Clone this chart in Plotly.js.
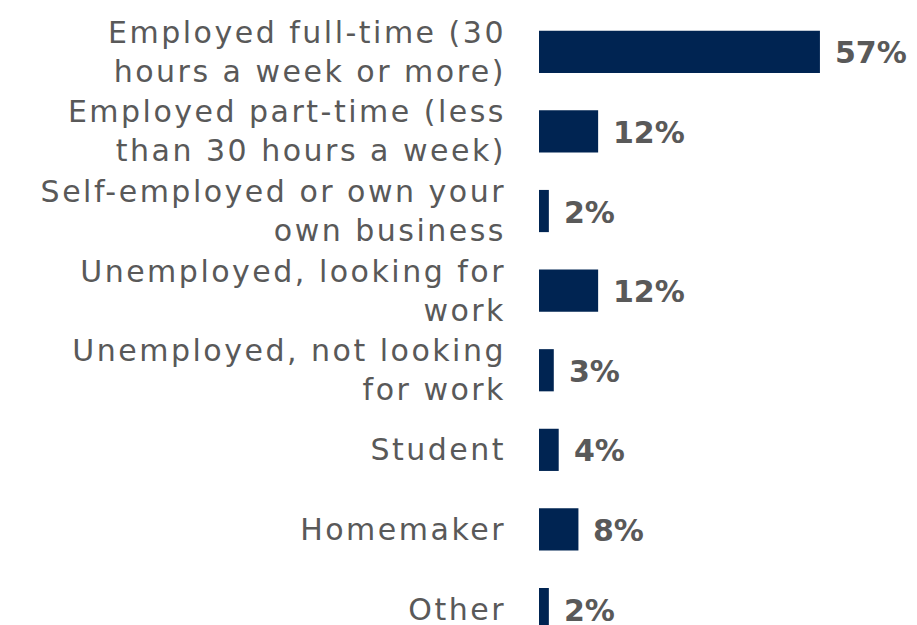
<!DOCTYPE html>
<html>
<head>
<meta charset="utf-8">
<script src="https://cdn.plot.ly/plotly-3.0.1.min.js"></script>
<style>
html,body{margin:0;padding:0;background:#fff;}
#chart{width:917px;height:625px;}
#chart .ytick text{letter-spacing:2.5px;}
</style>
</head>
<body>
<div id="chart"></div>
<script>
var categories = [
  "Employed full-time (30<br>hours a week or more)",
  "Employed part-time (less<br>than 30 hours a week)",
  "Self-employed or own your<br>own business",
  "Unemployed, looking for<br>work",
  "Unemployed, not looking<br>for work",
  "Student",
  "Homemaker",
  "Other"
];
var values = [57, 12, 2, 12, 3, 4, 8, 2];
var valueLabels = ["57%", "12%", "2%", "12%", "3%", "4%", "8%", "2%"];

var barColor = "#002452";
var textColor = "#595959";

var trace = {
  type: "bar",
  orientation: "h",
  y: categories,
  x: values,
  marker: {color: barColor},
  width: 0.53,
  hoverinfo: "none"
};

var annotations = values.map(function(v, i){
  return {
    x: v, y: categories[i], xref: "x", yref: "y",
    text: "<b>" + valueLabels[i] + "</b>",
    showarrow: false, xanchor: "left", yanchor: "middle",
    xshift: 13, yshift: -1,
    font: {family: "DejaVu Sans, sans-serif", size: 30, color: textColor}
  };
});

var layout = {
  width: 917, height: 625,
  margin: {l: 539, r: 33, t: 12, b: 0, pad: 0},
  paper_bgcolor: "#ffffff", plot_bgcolor: "#ffffff",
  showlegend: false,
  xaxis: {range: [0, 70], visible: false, fixedrange: true},
  yaxis: {
    type: "category",
    categoryorder: "array", categoryarray: categories,
    range: [7.2, -0.5],
    automargin: false,
    showgrid: false, zeroline: false, showline: false,
    ticks: "", ticklabelstandoff: 32,
    tickfont: {family: "DejaVu Sans, sans-serif", size: 30, color: textColor}
  },
  annotations: annotations
};

Plotly.newPlot("chart", [trace], layout, {displayModeBar: false, staticPlot: true});
</script>
</body>
</html>
